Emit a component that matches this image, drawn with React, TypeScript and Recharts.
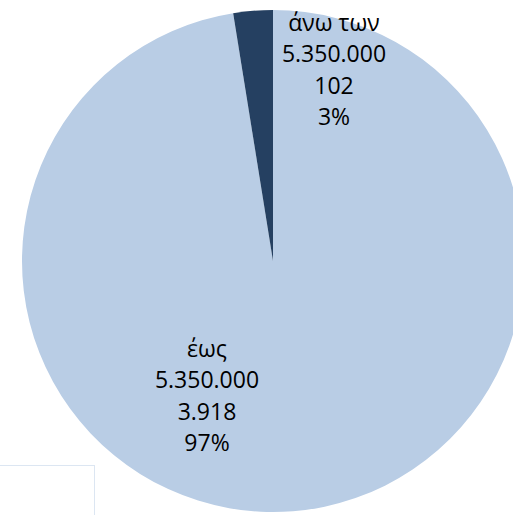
import React from "react";
import { PieChart, Pie, Cell } from "recharts";

const categories = ["έως 5.350.000", "άνω των 5.350.000"];
const values = [3918, 102];
const colors = ["#B9CDE5", "#254061"];

const data = categories.map((name, i) => ({ name, value: values[i] }));

const labelOffsets = [
  { dx: -66, dy: 96 },
  { dx: 61, dy: -230 },
];

function fmt(n: number): string {
  return String(n).replace(/\B(?=(\d{3})+(?!\d))/g, ".");
}

function renderLabel(props: any) {
  const { cx, cy, index, percent, value, name } = props;
  const off = labelOffsets[index];
  const x = cx + off.dx;
  const y = cy + off.dy;
  const nm: string = name ?? categories[index];
  const sp = nm.lastIndexOf(" ");
  const lines = [nm.slice(0, sp), nm.slice(sp + 1), fmt(value), `${Math.round(percent * 100)}%`];
  return (
    <text
      x={x}
      y={y}
      textAnchor="middle"
      fill="#000"
      fontSize={23}
      fontFamily="'Open Sans', sans-serif"
    >
      {lines.map((l, i) => (
        <tspan key={i} x={x} dy={i === 0 ? 0 : 31.3}>
          {l}
        </tspan>
      ))}
    </text>
  );
}

export default function App() {
  return (
    <div style={{ position: "absolute", left: 0, top: 0, width: 513, height: 515, background: "#fff", overflow: "hidden" }}>
      <PieChart width={513} height={515} margin={{ top: 0, right: 0, bottom: 0, left: 0 }}>
        <Pie
          data={data}
          dataKey="value"
          nameKey="name"
          cx={273}
          cy={261}
          outerRadius={251}
          startAngle={90}
          endAngle={-270}
          stroke="none"
          label={renderLabel}
          labelLine={false}
          isAnimationActive={false}
        >
          {data.map((d, i) => (
            <Cell key={d.name} fill={colors[i]} />
          ))}
        </Pie>
      </PieChart>
      <div
        style={{
          position: "absolute",
          left: -2,
          top: 465,
          width: 97,
          height: 60,
          border: "1.5px solid #DCE6F2",
          boxSizing: "border-box",
        }}
      />
    </div>
  );
}
